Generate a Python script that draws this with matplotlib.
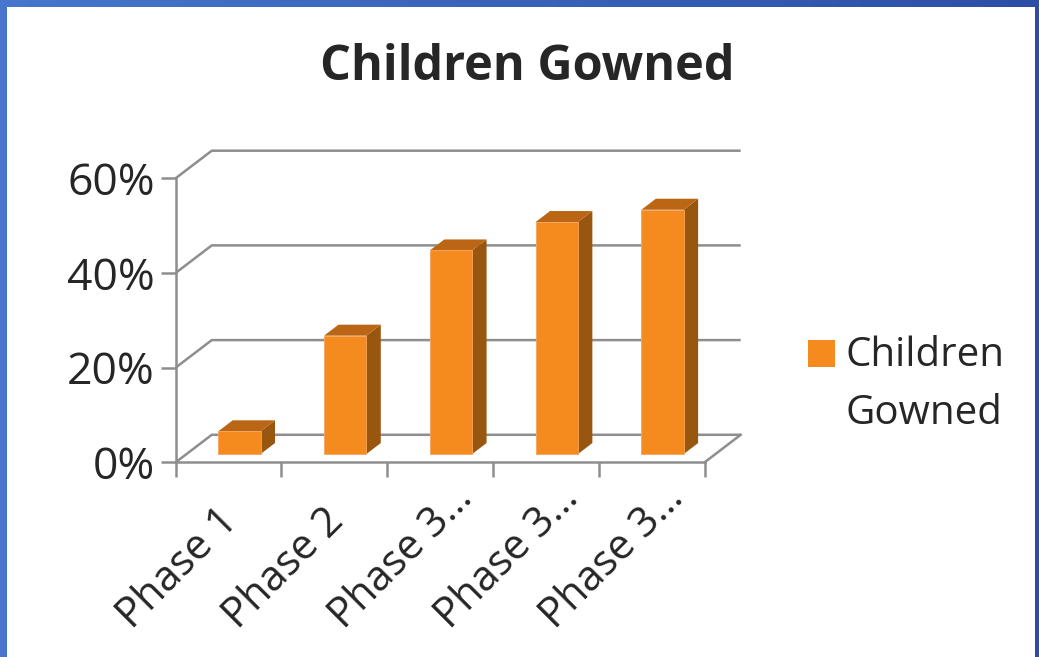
import numpy as np
import matplotlib
matplotlib.use('Agg')
import matplotlib.pyplot as plt
from matplotlib.patches import Polygon, Rectangle
from matplotlib.colors import LinearSegmentedColormap

# ---------------------------------------------------------------- data
categories = ['Phase 1', 'Phase 2', 'Phase 3…', 'Phase 3…', 'Phase 3…']
values = [4.8, 25.0, 43.0, 49.0, 51.6]
y_ticks = [0, 20, 40, 60]
series_name = 'Children Gowned'
chart_title = 'Children Gowned'

# ---------------------------------------------------------------- style
W, H = 1039, 657
FONT = 'Open Sans'
TXT = '#262626'
GRID = '#8e8e8e'
FRONT, TOP, SIDE = '#f58a1f', '#ba6615', '#98560f'
DX, DY = 0.341, 5.81          # depth of the wall, in data units
BAR_W = 0.4
D0, D1 = 0.3, 0.7             # bar depth range (fraction of wall depth)

plt.rcParams['font.family'] = [FONT, 'DejaVu Sans']

fig = plt.figure(figsize=(W / 100, H / 100), dpi=100)

# slide backdrop: blue gradient frame, white panel
bg = fig.add_axes([0, 0, 1, 1])
cmap = LinearSegmentedColormap.from_list('slide', ['#4677cc', '#2c4ea6'])
bg.imshow(np.linspace(0, 1, 256).reshape(1, -1), aspect='auto', cmap=cmap,
          extent=[0, 1, 0, 1])
bg.add_patch(Rectangle((7 / W, 0), (1035 - 7) / W, (H - 7) / H,
                       facecolor='white', edgecolor='none'))
bg.set_xlim(0, 1)
bg.set_ylim(0, 1)
bg.axis('off')

# plot area (front plane + back wall offset)
left, right, bottom, top = 175.7, 740.7, 462.3, 150.7
ax = fig.add_axes([left / W, (H - bottom) / H, (right - left) / W, (bottom - top) / H])
ax.patch.set_visible(False)
n = len(categories)
ax.set_xlim(0, n + DX)
ax.set_ylim(0, y_ticks[-1] + DY)

# gridlines: diagonal from front axis to back wall, then across the wall
for v in y_ticks:
    ax.plot([0, DX, n + DX], [v, v + DY, v + DY], color=GRID, lw=1.8,
            solid_capstyle='butt', zorder=1, clip_on=False)
ax.plot([n, n + DX], [0, DY], color=GRID, lw=1.8, zorder=1, clip_on=False)

# bars as boxes
for i, v in enumerate(values):
    x0 = i + (1 - BAR_W) / 2 + D0 * DX
    y0 = D0 * DY
    x1 = x0 + BAR_W
    ddx, ddy = (D1 - D0) * DX, (D1 - D0) * DY
    ax.add_patch(Polygon([(x1, y0), (x1 + ddx, y0 + ddy), (x1 + ddx, y0 + ddy + v),
                          (x1, y0 + v)], closed=True, facecolor=SIDE,
                         edgecolor='none', zorder=3, clip_on=False))
    ax.add_patch(Polygon([(x0, y0 + v), (x1, y0 + v), (x1 + ddx, y0 + v + ddy),
                          (x0 + ddx, y0 + v + ddy)], closed=True, facecolor=TOP,
                         edgecolor='none', zorder=3, clip_on=False))
    ax.add_patch(Rectangle((x0, y0), BAR_W, v, facecolor=FRONT,
                           edgecolor='#f7a35a', lw=0.6, zorder=4, clip_on=False))

# axes lines and ticks
for s in ('top', 'right'):
    ax.spines[s].set_visible(False)
for s in ('left', 'bottom'):
    ax.spines[s].set_color(GRID)
    ax.spines[s].set_linewidth(1.8)
    ax.spines[s].set_zorder(2)
ax.spines['left'].set_bounds(0, y_ticks[-1])
ax.spines['bottom'].set_bounds(0, n)

ax.set_yticks(y_ticks)
ax.set_yticklabels(['%d%%' % t for t in y_ticks])
ax.set_xticks(np.arange(n + 1))
ax.set_xticklabels([])
ax.tick_params(axis='both', direction='out', length=11, width=1.8, color=GRID)
ax.tick_params(axis='y', labelsize=32, labelcolor=TXT, pad=4)

# category labels start at a fixed spot below each slot, rotated 45 degrees
for i, lab in enumerate(categories):
    ax.text(i + 0.5 - 0.91, -35.5, lab, rotation=45, ha='left', va='baseline',
            rotation_mode='anchor', fontsize=30, color=TXT, clip_on=False)

# title
fig.text(527 / W, 1 - 68 / H, chart_title, ha='center', va='center',
         fontsize=35, fontweight='bold', color=TXT)

# legend
fig.patches.append(Rectangle((808 / W, 1 - 367 / H), 27 / W, 27 / H,
                             facecolor=FRONT, edgecolor='none',
                             transform=fig.transFigure, figure=fig))
fig.text(846 / W, 1 - 336 / H, series_name.replace(' ', '\n'), ha='left', va='top',
         fontsize=29, color=TXT, linespacing=1.55)

fig.savefig('out.png', dpi=100)
